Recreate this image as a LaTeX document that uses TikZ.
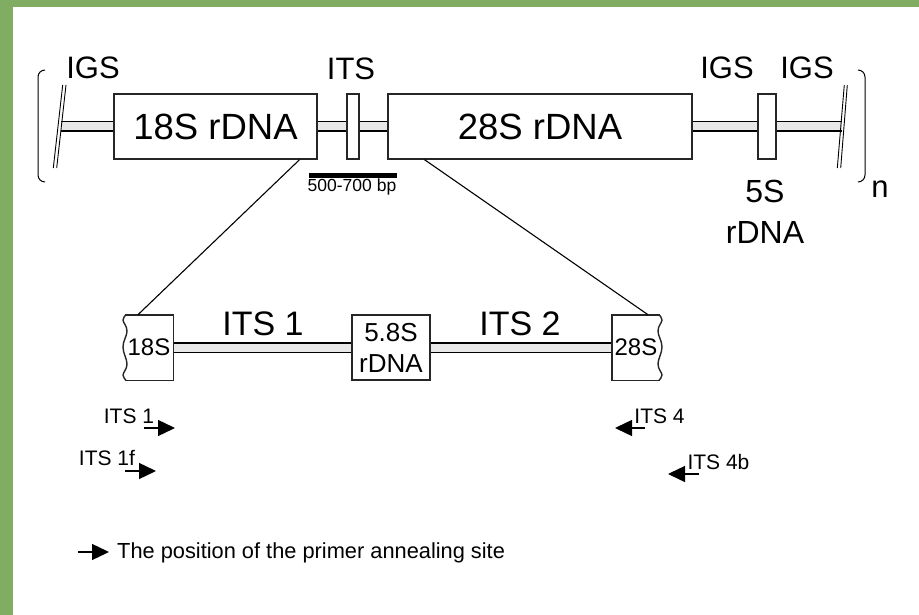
\documentclass[tikz,border=0pt]{standalone}
\usepackage{fontspec}
\setmainfont{Liberation Sans}
\usetikzlibrary{arrows.meta,calc,backgrounds}
\definecolor{framegreen}{RGB}{128,173,98}
\definecolor{spacergray}{RGB}{232,232,232}

\tikzset{
  gene/.style={draw=black!85, line width=1.4pt, fill=white, inner sep=0pt},
  edge/.style={draw=black!85, line width=1.4pt},
  strand/.style={double=spacergray, double distance=8pt, line width=1.1pt},
  link/.style={line width=1.1pt},
  cut/.style={line width=0.9pt},
  primer/.style={line width=1.4pt, -{Triangle[length=17pt,width=16pt]}},
  lbl/.style={inner sep=0pt},
  hugetext/.style={font=\fontsize{36.5}{40}\selectfont},
  bigtext/.style={font=\fontsize{31}{36}\selectfont},
  labtext/.style={font=\fontsize{34}{38}\selectfont},
  boxtext/.style={font=\fontsize{24}{28}\selectfont},
  smalltext/.style={font=\fontsize{21}{24}\selectfont},
}

\begin{document}
\begin{tikzpicture}[x=1pt,y=-1pt]
  \useasboundingbox (0,0) rectangle (919,615);
  \begin{scope}[on background layer]
    \fill[framegreen] (0,0) rectangle (919,615);
    \fill[white] (13,7) rectangle (919,615);
  \end{scope}

  % one repeat unit of the rDNA array
  \node[gene, minimum width=203pt, minimum height=65pt, hugetext] (b18) at (215.5,126.5) {18S rDNA};
  \node[gene, minimum width=12pt, minimum height=65pt] (its) at (353,126.5) {};
  \node[gene, minimum width=304pt, minimum height=65pt, hugetext] (b28) at (540,126.5) {28S rDNA};
  \node[gene, minimum width=18pt, minimum height=65pt] (b5) at (767,126.5) {};
  \coordinate (endL) at (61,126.5);
  \coordinate (endR) at (842,126.5);
  \begin{scope}[on background layer]
    \draw[strand] (endL) -- (b18.west);
    \draw[strand] (b18.east) -- (its.west);
    \draw[strand] (its.east) -- (b28.west);
    \draw[strand] (b28.east) -- (b5.west);
    \draw[strand] (b5.east) -- (endR);
  \end{scope}

  % broken ends
  \draw[cut] (62.7,85) -- (53.3,168) (66,85) -- (56.7,168);
  \draw[cut] (844.3,85) -- (837.3,168) (847.3,85) -- (840.7,168);

  % repeat brackets
  \draw[line width=1pt, rounded corners=7pt] (45,70) -| (38,182) -- (45,182);
  \draw[line width=1pt, rounded corners=7pt] (858,70) -| (865,182) -- (858,182);
  \node[lbl, bigtext] (rep) at (880,189) {n};

  % region labels
  \node[lbl, bigtext] (igs1) at (93,68) {IGS};
  \node[lbl, bigtext] (itsl) at (351,69) {ITS};
  \node[lbl, bigtext] (igs2) at (727,68) {IGS};
  \node[lbl, bigtext] (igs3) at (807,68) {IGS};
  \node[lbl, font=\fontsize{32}{41}\selectfont, align=center] (lab5s) at (765,212) {5S\\rDNA};

  % scale bar
  \draw[line width=5pt] (309,176) -- (397,176);
  \node[lbl, anchor=base, font=\fontsize{17.5}{20}\selectfont] (scale) at (352,192) {500-700 bp};

  % enlarged ITS region
  \node[lbl, minimum width=48pt, minimum height=65pt, boxtext] (s18) at (149,347.5) {18S};
  \draw[edge] (s18.north west) -- (s18.north east) -- (s18.south east) -- (s18.south west);
  \draw[edge] plot[smooth, tension=0.7] coordinates {(126,315) (123,320) (127,331) (123,347) (127,364) (123,375) (126,380)};
  \node[gene, minimum width=78pt, minimum height=65pt, font=\fontsize{26}{31}\selectfont, align=center] (s58) at (391,347.5) {5.8S\\rDNA};
  \node[lbl, minimum width=48pt, minimum height=65pt, boxtext] (s28) at (636,347.5) {28S};
  \draw[edge] (s28.north east) -- (s28.north west) -- (s28.south west) -- (s28.south east);
  \draw[edge] plot[smooth, tension=0.7] coordinates {(659,315) (662,320) (658,331) (662,347) (658,364) (662,375) (659,380)};
  \begin{scope}[on background layer]
    \draw[strand] (s18.east) -- (s58.west);
    \draw[strand] (s58.east) -- (s28.west);
  \end{scope}
  \node[lbl, labtext] (its1) at (263,324) {ITS 1};
  \node[lbl, labtext] (its2) at (520,324) {ITS 2};

  % zoom lines
  \draw[link] ($(b18.south west)!0.911!(b18.south east)$) -- ($(s18.north west)!0.27!(s18.north east)$);
  \draw[link] ($(b28.south west)!0.122!(b28.south east)$) -- ($(s28.north west)!0.75!(s28.north east)$);

  % primers
  \node[lbl, smalltext] (pr1) at (129,416) {ITS 1};
  \coordinate (pr1a) at (144,428);
  \coordinate (pr1b) at (175,428);
  \draw[primer] (pr1a) -- (pr1b);
  \node[lbl, smalltext] (pr1f) at (107,458) {ITS 1f};
  \coordinate (pr1fa) at (125,471);
  \coordinate (pr1fb) at (156,471);
  \draw[primer] (pr1fa) -- (pr1fb);
  \node[lbl, smalltext] (pr4) at (659.5,416) {ITS 4};
  \coordinate (pr4a) at (645,428);
  \coordinate (pr4b) at (615,428);
  \draw[primer] (pr4a) -- (pr4b);
  \node[lbl, smalltext] (pr4b) at (718.5,462) {ITS 4b};
  \coordinate (pr4ba) at (699,474);
  \coordinate (pr4bb) at (668,474);
  \draw[primer] (pr4ba) -- (pr4bb);

  % legend
  \coordinate (keya) at (78,552);
  \coordinate (keyb) at (109,552);
  \draw[primer] (keya) -- (keyb);
  \node[lbl, anchor=base west, font=\fontsize{21.8}{24}\selectfont] (key) at (117,558) {The position of the primer annealing site};
\end{tikzpicture}
\end{document}
